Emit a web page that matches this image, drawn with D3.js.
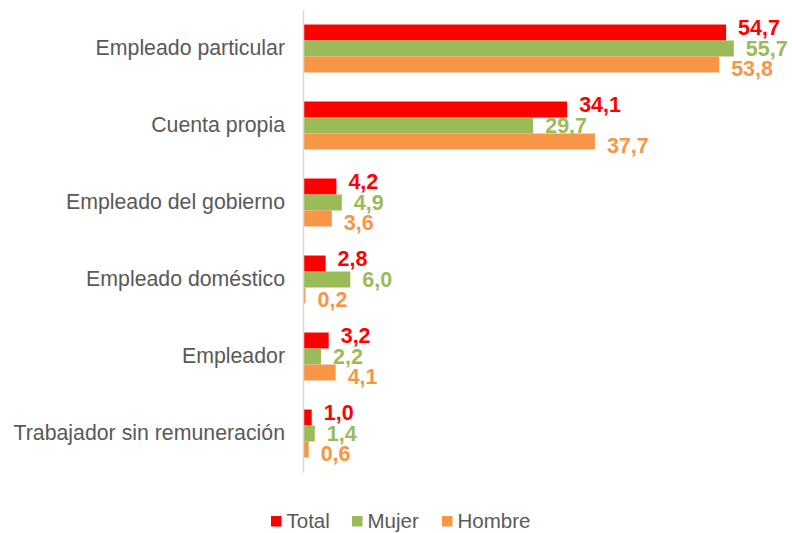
<!doctype html>
<html>
  <head>
    <meta charset='UTF-8'>
    <script src="https://d3js.org/d3.v7.min.js"></script>
    <style>
      body { margin: 0; background: #fff; }
      svg { font-family: "Liberation Sans", Arial, sans-serif; }
    </style>
  </head>
  <body>
    <svg id="chart" width="792" height="533"></svg>
    <script>
      const categories = ["Empleado particular", "Cuenta propia", "Empleado del gobierno",
                          "Empleado doméstico", "Empleador", "Trabajador sin remuneración"];
      const seriesNames = ["Total", "Mujer", "Hombre"];
      const total = [54.7, 34.1, 4.2, 2.8, 3.2, 1.0];
      const mujer = [55.7, 29.7, 4.9, 6.0, 2.2, 1.4];
      const hombre = [53.8, 37.7, 3.6, 0.2, 4.1, 0.6];
      const colors = ["#FF0000", "#9BBB59", "#F79646"];

      const values = [total, mujer, hombre];
      const svg = d3.select("#chart");

      const x = d3.scaleLinear().domain([0, 60]).range([304, 767]);
      const y = d3.scaleBand().domain(categories).range([10, 472]).padding(0);
      const groupH = y.bandwidth() * 0.623;
      const ySub = d3.scaleBand().domain(seriesNames)
        .range([(y.bandwidth() - groupH) / 2, (y.bandwidth() + groupH) / 2]);

      const fmt = v => d3.format(".1f")(v).replace(".", ",");

      // bars
      const groups = svg.selectAll("g.grp").data(categories).enter().append("g")
        .attr("class", "grp")
        .attr("transform", c => `translate(0,${y(c)})`);

      seriesNames.forEach((s, si) => {
        groups.append("rect")
          .attr("x", x(0))
          .attr("y", ySub(s))
          .attr("width", (c, ci) => x(values[si][ci]) - x(0))
          .attr("height", ySub.bandwidth())
          .attr("fill", colors[si]);
      });

      // data labels (spread a little wider than the bars, like the original)
      const labelShift = [-5, 0, 4];
      seriesNames.forEach((s, si) => {
        groups.append("text")
          .attr("x", (c, ci) => x(values[si][ci]) + 12)
          .attr("y", ySub(s) + ySub.bandwidth() / 2 + labelShift[si])
          .attr("dy", "0.36em")
          .attr("fill", colors[si])
          .attr("font-size", 21.5)
          .attr("font-weight", "bold")
          .text((c, ci) => fmt(values[si][ci]));
      });

      // category axis
      const axis = svg.append("g").attr("transform", `translate(${x(0) - 1},0)`)
        .call(d3.axisLeft(y).tickSize(0).tickPadding(18));
      axis.select(".domain").attr("stroke", "#D9D9D9").attr("stroke-width", 1.5);
      axis.selectAll("text")
        .attr("font-size", 21.3)
        .attr("fill", "#595959")
        .attr("font-family", "Liberation Sans, Arial, sans-serif");

      // legend
      const legendX = [271, 352, 442];
      const leg = svg.append("g").selectAll("g").data(seriesNames).enter().append("g")
        .attr("transform", (d, i) => `translate(${legendX[i]},516)`);
      leg.append("rect").attr("width", 10.5).attr("height", 10.5)
        .attr("fill", (d, i) => colors[i]);
      leg.append("text").attr("x", 15.5).attr("y", 11.8)
        .attr("font-size", 20.5).attr("fill", "#595959")
        .text(d => d);
    </script>
  </body>
</html>
